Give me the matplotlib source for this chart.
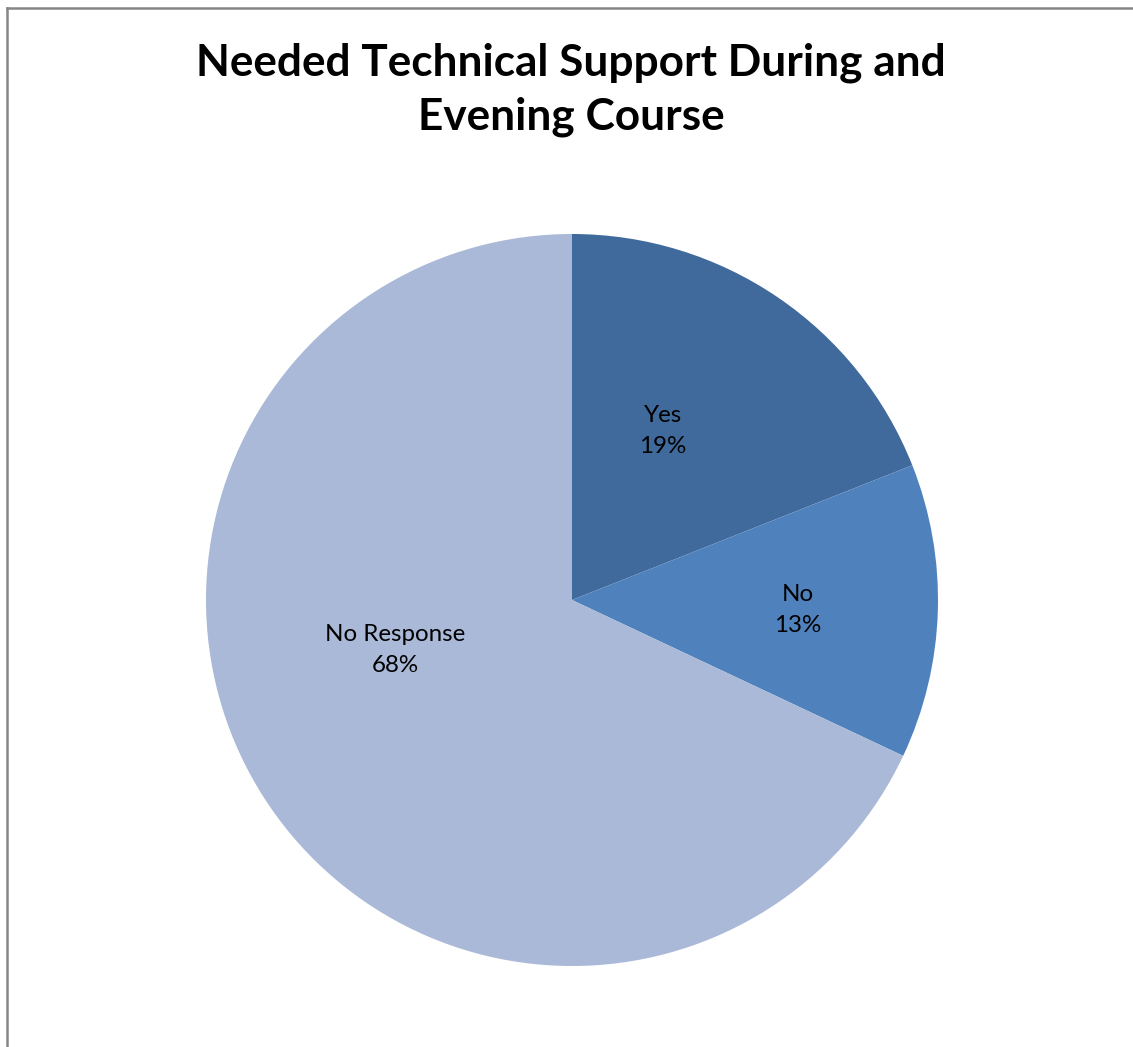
import matplotlib.pyplot as plt

categories = ['Yes', 'No', 'No Response']
shares = [19, 13, 68]
slice_colors = ['#416A9C', '#4F81BD', '#AAB9D7']

# label centres, in pie radius units relative to the centre
label_pos = [(0.249, 0.462), (0.617, -0.027), (-0.484, -0.137)]

plt.rcParams['font.family'] = ['Lato', 'DejaVu Sans']

fig = plt.figure(figsize=(11.33, 10.47), dpi=100)

# pie centre at (572, 600) px, radius 366 px
W, H = 1133, 1047
cx, cy, r = 572, 600, 366
ax = fig.add_axes([(cx - r) / W, (H - cy - r) / H, 2 * r / W, 2 * r / H])
ax.pie(shares, colors=slice_colors, startangle=90, counterclock=False,
       radius=1, wedgeprops=dict(linewidth=0))
ax.set_xlim(-1, 1)
ax.set_ylim(-1, 1)
ax.set_aspect('equal')
ax.axis('off')

for name, val, (lx, ly) in zip(categories, shares, label_pos):
    ax.text(lx, ly, f'{name}\n{val}%', ha='center', va='center',
            fontsize=17.4, linespacing=1.6, color='black')

fig.text(571 / W, 1 - 90 / H, 'Needed Technical Support During and\nEvening Course',
         ha='center', va='center', fontsize=31.8, fontweight='bold',
         linespacing=1.4)

# chart frame (only top and left visible in the crop)
fig.add_artist(plt.Line2D([7 / W, 1], [1 - 8 / H, 1 - 8 / H], color='#868686', lw=1.8))
fig.add_artist(plt.Line2D([7 / W, 7 / W], [0, 1 - 8 / H], color='#868686', lw=1.8))

fig.savefig('out.png', dpi=100)
